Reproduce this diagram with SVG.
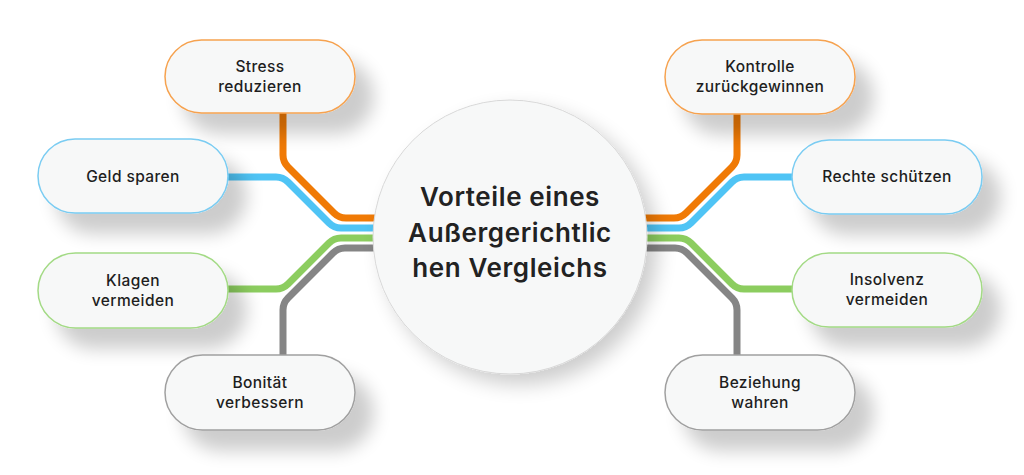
<svg xmlns="http://www.w3.org/2000/svg" width="1024" height="475" viewBox="0 0 1024 475">
<defs>
<filter id="sh" x="-30%" y="-30%" width="180%" height="200%">
<feGaussianBlur in="SourceAlpha" stdDeviation="9"/>
<feOffset dx="18" dy="20" result="b"/>
<feComponentTransfer><feFuncA type="linear" slope="0.2"/></feComponentTransfer>
<feMerge><feMergeNode/><feMergeNode in="SourceGraphic"/></feMerge>
</filter>
<filter id="shc" x="-30%" y="-30%" width="170%" height="170%">
<feGaussianBlur in="SourceAlpha" stdDeviation="10"/>
<feOffset dx="10" dy="10" result="b"/>
<feComponentTransfer><feFuncA type="linear" slope="0.2"/></feComponentTransfer>
<feMerge><feMergeNode/><feMergeNode in="SourceGraphic"/></feMerge>
</filter>
</defs>
<style>
.pill{fill:#F7F8F8;stroke-width:1.5;filter:url(#sh)}
.po{stroke:#F6A24F}.pb{stroke:#7ACCF2}.pg{stroke:#A3DA85}.pk{stroke:#A0A0A0}
.t{font-family:Inter,"Open Sans","Liberation Sans",sans-serif;font-size:15.5px;font-weight:500;letter-spacing:0.4px;fill:#1E1E1E;text-anchor:middle}
.ct{font-family:Inter,"Open Sans","Liberation Sans",sans-serif;font-size:26px;font-weight:600;letter-spacing:0.6px;fill:#222;text-anchor:middle}
.ln{fill:none;stroke-width:7;stroke-linecap:butt;stroke-linejoin:round}
.lo{stroke:#F07A05}.lb{stroke:#4FC4F5}.lg{stroke:#8CCD5F}.lk{stroke:#858585}
</style>
<rect width="1024" height="475" fill="#FFFFFF"/>
<g id="connectors">
<path class="ln lo" d="M283,112 V155 Q283,162 288,167 L334,213 Q339,218 346,218 H400"/>
<path class="ln lb" d="M226,177 H276 Q283,177 288,182 L329,223 Q334,228 341,228 H400"/>
<path class="ln lg" d="M226,289 H276 Q283,289 288,284 L329,243 Q334,238 341,238 H400"/>
<path class="ln lk" d="M283,356 V310 Q283,303 288,298 L333,253 Q338,248 345,248 H400"/>
<path class="ln lo" d="M737,112 V155 Q737,162 732,167 L686,213 Q681,218 674,218 H620"/>
<path class="ln lb" d="M794,177 H744 Q737,177 732,182 L691,223 Q686,228 679,228 H620"/>
<path class="ln lg" d="M794,289 H744 Q737,289 732,284 L691,243 Q686,238 679,238 H620"/>
<path class="ln lk" d="M737,356 V310 Q737,303 732,298 L687,253 Q682,248 675,248 H620"/>
</g>
<g id="center">
<circle cx="510" cy="237" r="137" fill="#F7F8F8" stroke="#D8D8D8" stroke-width="1" filter="url(#shc)"/>
<text class="ct" x="510" y="206">Vorteile eines</text>
<text class="ct" x="510" y="242">Außergerichtlic</text>
<text class="ct" x="510" y="277">hen Vergleichs</text>
</g>
<g id="n-stress">
<rect class="pill po" x="165" y="40" width="190" height="73" rx="36.5"/>
<text class="t" x="260" y="72">Stress</text>
<text class="t" x="260" y="92">reduzieren</text>
</g>
<g id="n-geld">
<rect class="pill pb" x="38" y="139" width="190" height="74" rx="37"/>
<text class="t" x="133" y="182">Geld sparen</text>
</g>
<g id="n-klagen">
<rect class="pill pg" x="38" y="253" width="190" height="75" rx="37.5"/>
<text class="t" x="133" y="286">Klagen</text>
<text class="t" x="133" y="306">vermeiden</text>
</g>
<g id="n-bonitaet">
<rect class="pill pk" x="165" y="355" width="190" height="75" rx="37.5"/>
<text class="t" x="260" y="388">Bonität</text>
<text class="t" x="260" y="408">verbessern</text>
</g>
<g id="n-kontrolle">
<rect class="pill po" x="665" y="40" width="190" height="74" rx="37"/>
<text class="t" x="760" y="72">Kontrolle</text>
<text class="t" x="760" y="92">zurückgewinnen</text>
</g>
<g id="n-rechte">
<rect class="pill pb" x="792" y="140" width="190" height="74" rx="37"/>
<text class="t" x="887" y="182">Rechte schützen</text>
</g>
<g id="n-insolvenz">
<rect class="pill pg" x="792" y="253" width="190" height="74" rx="37"/>
<text class="t" x="887" y="285">Insolvenz</text>
<text class="t" x="887" y="305">vermeiden</text>
</g>
<g id="n-beziehung">
<rect class="pill pk" x="665" y="355" width="190" height="75" rx="37.5"/>
<text class="t" x="760" y="388">Beziehung</text>
<text class="t" x="760" y="408">wahren</text>
</g>
</svg>
